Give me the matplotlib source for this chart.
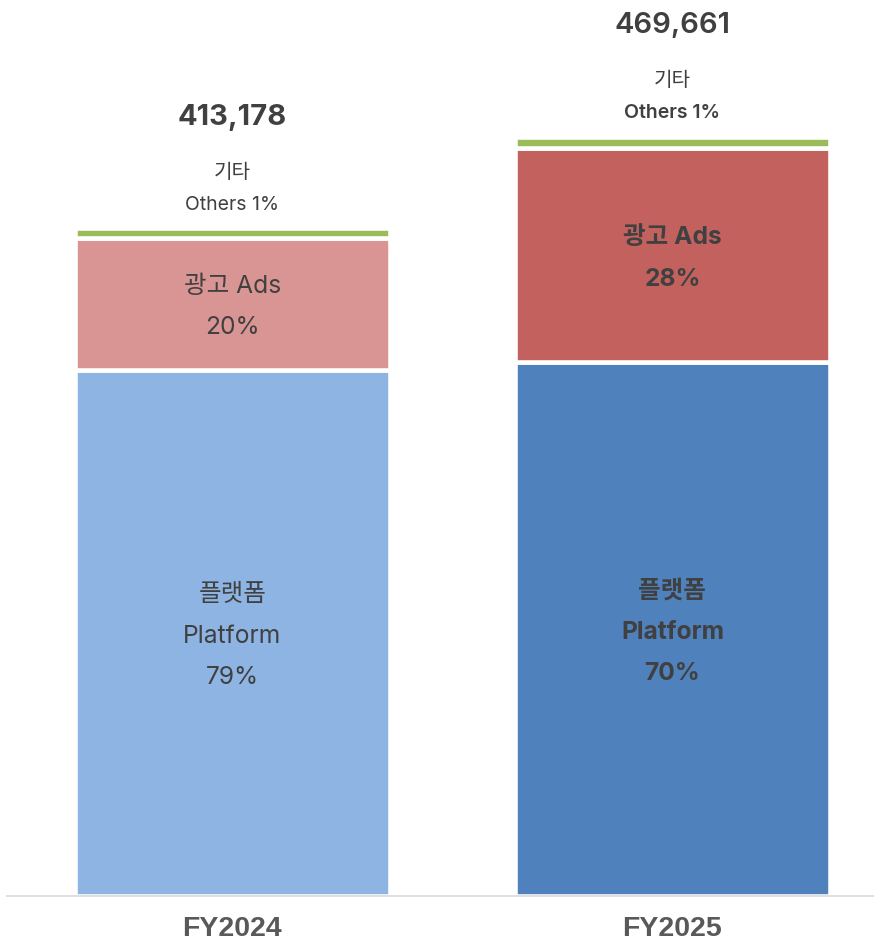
import numpy as np
import matplotlib
matplotlib.use('Agg')
import matplotlib.pyplot as plt

# -------- data
years = ['FY2024', 'FY2025']
platform = np.array([325600, 330600])
ads = np.array([81800, 132000])
others = np.array([5778, 7061])
totals = ['413,178', '469,661']
platform_pct = ['79%', '70%']
ads_pct = ['20%', '28%']
others_pct = ['1%', '1%']

# colours per year (light for 2024, dark for 2025)
platform_colors = ['#8EB4E3', '#4F81BD']
ads_colors = ['#D99594', '#C3615F']
others_color = '#9BBB59'
txt = '#404040'

plt.rcParams['font.family'] = ['Inter', 'Noto Sans CJK KR', 'DejaVu Sans']

fig = plt.figure(figsize=(8.74, 9.44), dpi=100)
ax = fig.add_axes([0.0084, (944 - 896) / 944, 1 - 0.0084, 896 / 944])

x = np.arange(len(years))
w = 0.7156
ax.bar(x, platform, w, color=platform_colors, edgecolor='white', linewidth=3.3, zorder=2)
ax.bar(x, ads, w, bottom=platform, color=ads_colors, edgecolor='white', linewidth=3.3, zorder=2)
ax.bar(x, others, w, bottom=platform + ads, color=others_color, edgecolor='white', linewidth=3.3, zorder=2)

ax.set_xlim(-0.511, 1.458)
ax.set_ylim(0, 896 * 618.8)

weights = ['normal', 'bold']
for i in range(len(years)):
    fw = weights[i]
    # platform block, 3 lines centred
    c = platform[i] / 2
    for line, off in zip(['플랫폼', 'Platform', platform_pct[i]], [22.7, -7.2, -37.1]):
        ax.annotate(line, (x[i], c), xytext=(0, off), textcoords='offset points',
                    ha='center', va='baseline', fontsize=17.7, color=txt, fontweight=fw)
    # ads block, 2 lines
    c = platform[i] + ads[i] / 2
    for line, off in zip(['광고 Ads', ads_pct[i]], [7.7, -22.1]):
        ax.annotate(line, (x[i], c), xytext=(0, off), textcoords='offset points',
                    ha='center', va='baseline', fontsize=17.7, color=txt, fontweight=fw)
    # labels above the bar
    top = platform[i] + ads[i] + others[i]
    ax.annotate('Others ' + others_pct[i], (x[i], top), xytext=(0, 13.5), textcoords='offset points',
                ha='center', va='baseline', fontsize=14, color=txt,
                fontweight='normal' if i == 0 else 'semibold')
    ax.annotate('기타', (x[i], top), xytext=(0, 36.4), textcoords='offset points',
                ha='center', va='baseline', fontsize=14.5, color=txt,
                fontweight='normal' if i == 0 else 'medium')
    ax.annotate(totals[i], (x[i], top), xytext=(0, 74.7), textcoords='offset points',
                ha='center', va='baseline', fontsize=21, color=txt,
                fontweight='bold' if i == 0 else 'semibold')

ax.set_xticks(x)
ax.set_xticklabels(years, fontsize=20.5, fontweight='bold', color='#595959',
                   family=['Liberation Sans', 'Arial', 'DejaVu Sans'])
ax.tick_params(axis='x', length=0, pad=14.5)
ax.set_yticks([])
for s in ['top', 'left', 'right']:
    ax.spines[s].set_visible(False)
ax.spines['bottom'].set_color('#D9D9D9')
ax.spines['bottom'].set_linewidth(1.2)
ax.spines['bottom'].set_zorder(3)

fig.savefig('out.png', dpi=100)
